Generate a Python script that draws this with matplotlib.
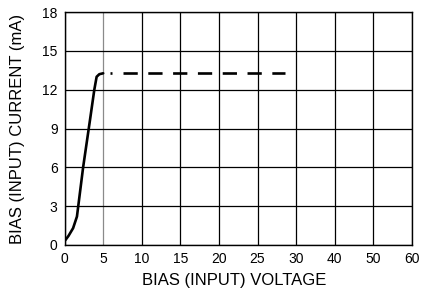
import numpy as np
import matplotlib
matplotlib.use("Agg")
import matplotlib.pyplot as plt

plt.rcParams['font.family'] = ['Liberation Sans', 'DejaVu Sans']

# data
volt_solid = [0.0, 0.5, 1.1, 1.6, 2.4, 3.3, 3.85, 4.15, 4.5, 5.0]
amp_solid = [0.3, 0.7, 1.3, 2.2, 6.0, 9.7, 12.0, 13.0, 13.2, 13.27]
volt_dot = [5.9, 6.2]
amp_dot = [13.3, 13.3]
volt_dash = [7.55, 28.5]
amp_dash = [13.3, 13.3]

x_ticks = [0, 5, 10, 15, 20, 25, 30, 40, 50, 60]
y_ticks = [0, 3, 6, 9, 12, 15, 18]


# x axis: 5 V per division up to 30 V, then 10 V per division
def fwd(v):
    v = np.asarray(v, dtype=float)
    return np.where(v <= 30, v / 5.0, 6 + (v - 30) / 10.0)


def inv(p):
    p = np.asarray(p, dtype=float)
    return np.where(p <= 6, p * 5.0, 30 + (p - 6) * 10.0)


fig = plt.figure(figsize=(4.25, 2.95), dpi=100)
ax = fig.add_axes([0.152, 0.1695, 0.817, 0.7895])
ax.set_xscale('function', functions=(fwd, inv))

ax.plot(volt_solid, amp_solid, color='black', lw=1.9,
        solid_joinstyle='round', solid_capstyle='round')
ax.plot(volt_dot, amp_dot, color='black', lw=1.9, solid_capstyle='butt')
ax.plot(volt_dash, amp_dash, color='black', lw=1.9,
        linestyle=(0, (5.4, 4.0)), dash_capstyle='butt')

ax.set_xlim(0, 60)
ax.set_ylim(0, 18)
ax.set_xticks(x_ticks)
ax.set_xticklabels([str(t) for t in x_ticks])
ax.set_yticks(y_ticks)
ax.set_yticklabels([str(t) for t in y_ticks])
ax.minorticks_off()

ax.grid(True, color='black', lw=0.9)
ax.get_xgridlines()[1].set_color('#8a8a8a')
ax.set_axisbelow(True)
for s in ax.spines.values():
    s.set_color('black')
    s.set_linewidth(1.0)

ax.tick_params(length=0, labelsize=10, pad=5, colors='black')

ax.set_xlabel('BIAS (INPUT) VOLTAGE', fontsize=12)
ax.set_ylabel('BIAS (INPUT) CURRENT (mA)', fontsize=12)
ax.xaxis.set_label_coords(0.488, -0.12)
ax.yaxis.set_label_coords(-0.115, 0.5)

fig.savefig('out.png', dpi=100)
